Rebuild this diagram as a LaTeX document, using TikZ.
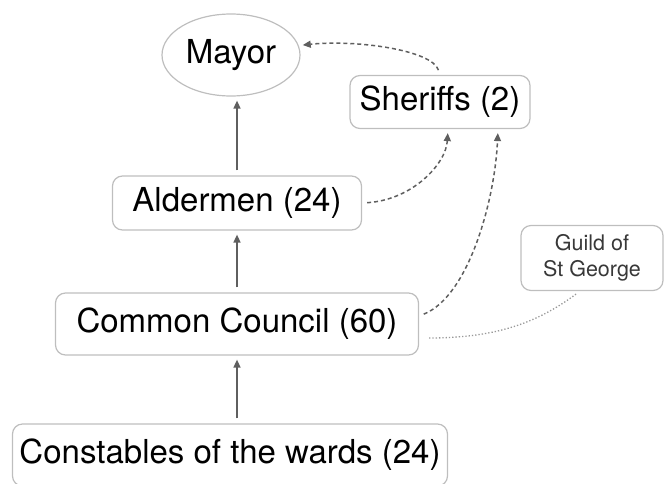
\documentclass[tikz,border=0pt]{standalone}
\usepackage{fontspec}
\setmainfont{TeX Gyre Heros}
\usetikzlibrary{arrows.meta,shapes.geometric}
\definecolor{boxgray}{RGB}{190,190,190}
\definecolor{arrowgray}{RGB}{95,95,95}
\begin{document}
\begin{tikzpicture}[x=1pt,y=-1pt,
        box/.style={draw=boxgray, line width=1.2pt, rounded corners=10pt, inner sep=0pt,
            font=\fontsize{33}{36}\selectfont},
        up/.style={draw=arrowgray, line width=1.5pt, -{Triangle[length=8pt,width=7pt]},
            shorten >=4pt, shorten <=5pt},
        link/.style={up, dash pattern=on 4pt off 3pt}]
    \useasboundingbox (0,0) rectangle (664,483);
    % offices
    \node[box, ellipse, rounded corners=0pt, minimum width=138, minimum height=82] (mayor) at (231,55) {Mayor};
    \node[box, minimum width=180, minimum height=53] (sher) at (440,102) {Sheriffs (2)};
    \node[box, minimum width=249, minimum height=54] (ald) at (237,203) {Aldermen (24)};
    \node[box, minimum width=363, minimum height=62] (cc) at (237,324) {Common Council (60)};
    \node[box, minimum width=435, minimum height=62] (con) at (230,455) {Constables of the wards (24)};
    \node[box, minimum width=142, minimum height=65, align=center, text=black!78,
        font=\fontsize{21.5}{26}\selectfont] (guild) at (592,258) {Guild of\\St George};
    % chain of election
    \draw[up] (ald.north) -- (ald.north |- mayor.south);
    \draw[up] (cc.north) -- (ald.south);
    \draw[up] (con.north -| cc.south) -- (cc.south);
    % sheriffs
    \draw[link] (sher.north) .. controls +(-8,-25) and +(57,-6) .. (mayor.8);
    \draw[link] (ald.east) .. controls +(50,-3) and +(-2,35) .. ([xshift=8pt]sher.south);
    \draw[link] ([yshift=8pt]cc.east) .. controls +(50,-20) and +(-3,70) .. ([xshift=58pt]sher.south);
    \draw[draw=black!40, line width=1.3pt, dotted, shorten <=10pt, shorten >=3pt]
        ([yshift=-14pt]cc.east) .. controls +(80,0) and +(-40,30) .. ([xshift=-12pt]guild.south);
\end{tikzpicture}
\end{document}
